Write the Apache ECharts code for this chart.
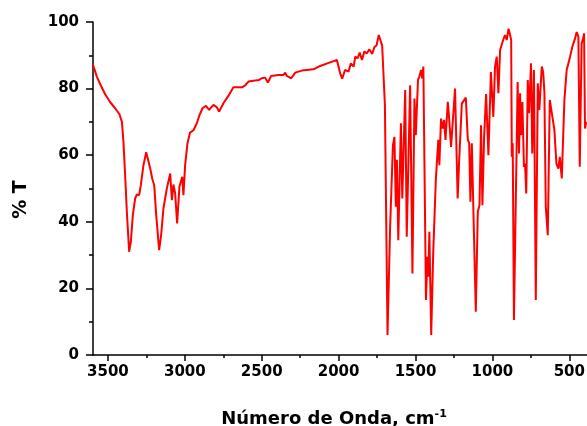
<!DOCTYPE html>
<html>
<head>
<meta charset="utf-8">
<script src="https://cdn.jsdelivr.net/npm/echarts@6/dist/echarts.min.js"></script>
<style>
  html, body { margin: 0; padding: 0; background: #fff; }
  #main { width: 587px; height: 426px; }
</style>
</head>
<body>
<div id="main"></div>
<script>
// espectro IR
var wavenumber = [
  3598, 3572, 3550, 3518, 3485, 3453, 3425, 3409, 3399, 3388, 3377, 3362, 3351, 3338, 3323, 3312,
  3297, 3286, 3269, 3251, 3238, 3225, 3212, 3199, 3186, 3167, 3154, 3139, 3117, 3095, 3084, 3074,
  3063, 3050, 3035, 3024, 3017, 3009, 2998, 2983, 2966, 2944, 2922, 2905, 2885, 2863, 2842, 2814,
  2792, 2777, 2749, 2717, 2684, 2629, 2607, 2586, 2543, 2517, 2500, 2478, 2460, 2439, 2390, 2358,
  2348, 2337, 2308, 2282, 2239, 2164, 2120, 2060, 2011, 2000, 1990, 1977, 1958, 1936, 1920, 1902,
  1892, 1877, 1863, 1848, 1833, 1816, 1800, 1782, 1768, 1753, 1739, 1728, 1717, 1699, 1682, 1665,
  1647, 1637, 1628, 1621, 1612, 1595, 1586, 1567, 1557, 1535, 1520, 1507, 1498, 1484, 1475, 1464,
  1457, 1449, 1432, 1423, 1417, 1410, 1398, 1385, 1368, 1352, 1345, 1334, 1323, 1314, 1305, 1290,
  1282, 1269, 1243, 1226, 1217, 1199, 1173, 1160, 1151, 1143, 1134, 1108, 1095, 1084, 1074, 1065,
  1054, 1041, 1026, 1010, 994, 983, 972, 961, 950, 930, 918, 907, 895, 885, 878, 874,
  868, 860, 849, 836, 827, 820, 814, 805, 795, 788, 780, 770, 762, 749, 741, 730,
  718, 705, 695, 679, 670, 662, 653, 640, 627, 614, 597, 584, 571, 562, 549, 532,
  517, 506, 495, 480, 463, 452, 441, 432, 420, 410, 404, 398, 390
];
var transmittance = [
  87.3, 83.6, 81.3, 78.3, 75.9, 74.1, 72.3, 70, 64, 54, 43, 31, 34, 42, 47, 48.2,
  48, 51, 57, 60.9, 60.3, 56, 53, 51, 42, 31.5, 36, 44, 50, 54.5, 46.5, 51.2,
  48.6, 39.5, 50.5, 50, 53.5, 48, 57, 63.5, 66.8, 67.5, 69.6, 72, 74.1, 74.8, 73.6, 75.1,
  74.4, 73.1, 75.6, 77.8, 80.4, 80.4, 81, 82.1, 82.4, 82.6, 83.1, 83.3, 81.8, 83.8, 84.1, 84.1,
  84.8, 83.8, 83.1, 84.8, 85.4, 85.8, 86.8, 87.8, 88.6, 88, 84.6, 83, 85.6, 85.1, 87.6, 86.6,
  89.6, 89.1, 90.8, 88.6, 91.1, 90.6, 91.8, 90.4, 92.4, 93, 96.1, 94.5, 93, 75, 6, 38.5,
  63, 65.5, 44.5, 58.6, 34.5, 69.6, 47, 79.6, 35.5, 81, 24.5, 77, 66, 82.6, 83.6, 85.6,
  83.1, 86.6, 16.5, 29.5, 23.5, 37, 6, 30.5, 52.5, 64.6, 57, 71, 68, 70.6, 64.6, 76,
  71.5, 62.5, 80, 47, 57.5, 75.5, 77.3, 64.6, 63.6, 46, 63.6, 13, 43, 45, 69, 45,
  65.5, 78.4, 60, 85, 71.5, 86.6, 89.6, 78.6, 91.6, 94.6, 96.1, 94.6, 98, 96.1, 94.6, 59.5,
  63.6, 10.5, 43.5, 82, 60.5, 78.6, 66, 76, 56.5, 57.5, 48.5, 82.6, 72.6, 87.6, 60.5, 85.6,
  16.5, 81.6, 73.6, 86.6, 85, 79, 44.5, 36, 76.6, 76.3, 67.6, 57.5, 56, 59.5, 53, 76.6,
  85.6, 86, 89.6, 92.6, 95, 97, 95.6, 56.5, 93.6, 95, 96.6, 68, 70
];
var xMajorTicks = [500, 1000, 1500, 2000, 2500, 3000, 3500];
var xMinorTicks = [750, 1250, 1750, 2250, 2750, 3250];

var chartDom = document.getElementById('main')
var myChart = echarts.init(chartDom)

var fontFam = '"DejaVu Sans", sans-serif'
var xBase = {
  type: 'value',
  inverse: true,
  min: 385,
  max: 3597,
  splitLine: { show: false }
}

var option = {
  animation: false,
  textStyle: { fontFamily: fontFam },
  grid: { left: 93, right: 0, top: 22, bottom: 71, containLabel: false, outerBoundsMode: 'none' },
  xAxis: [
    Object.assign({}, xBase, {
      name: '{t|Número de Onda, cm}{s|-1}',
      nameLocation: 'middle',
      nameGap: 54,
      nameTextStyle: {
        padding: [0, 12, 0, 0],
        rich: {
          t: { fontSize: 18, fontWeight: 'bold', color: '#000', fontFamily: fontFam },
          s: { fontSize: 11, fontWeight: 'bold', color: '#000', fontFamily: fontFam, verticalAlign: 'top', padding: [0, 0, 10, 0] }
        }
      },
      axisLine: { lineStyle: { color: '#000', width: 1.5 } },
      axisTick: { customValues: xMajorTicks, length: 6, lineStyle: { color: '#000', width: 1.5 } },
      axisLabel: {
        customValues: xMajorTicks,
        formatter: function (v) { return String(v) },
        margin: 10,
        fontSize: 15,
        fontWeight: 'bold',
        color: '#000',
        fontFamily: fontFam
      }
    }),
    Object.assign({}, xBase, {
      position: 'bottom',
      axisLine: { show: false },
      axisTick: { customValues: xMinorTicks, length: 3, lineStyle: { color: '#000', width: 1.5 } },
      axisLabel: { show: false }
    })
  ],
  yAxis: {
    type: 'value',
    min: 0,
    max: 100,
    interval: 20,
    name: '% T',
    nameLocation: 'middle',
    nameGap: 62,
    nameRotate: 90,
    nameTextStyle: { fontSize: 19, fontWeight: 'bold', color: '#000', fontFamily: fontFam, padding: [0, 22, 0, 0] },
    splitLine: { show: false },
    axisLine: { show: true, lineStyle: { color: '#000', width: 1.5 } },
    axisTick: { show: true, length: 7, lineStyle: { color: '#000', width: 1.5 } },
    minorTick: { show: true, splitNumber: 2, length: 4, lineStyle: { color: '#000', width: 1.5 } },
    axisLabel: { margin: 14, fontSize: 15, fontWeight: 'bold', color: '#000', fontFamily: fontFam }
  },
  series: [
    {
      type: 'line',
      xAxisIndex: 0,
      data: wavenumber.map(function (w, i) { return [w, transmittance[i]] }),
      showSymbol: false,
      clip: true,
      lineStyle: { color: '#ff0000', width: 2 },
      itemStyle: { color: '#ff0000' }
    }
  ]
};
myChart.setOption(option);
</script>
</body>
</html>
